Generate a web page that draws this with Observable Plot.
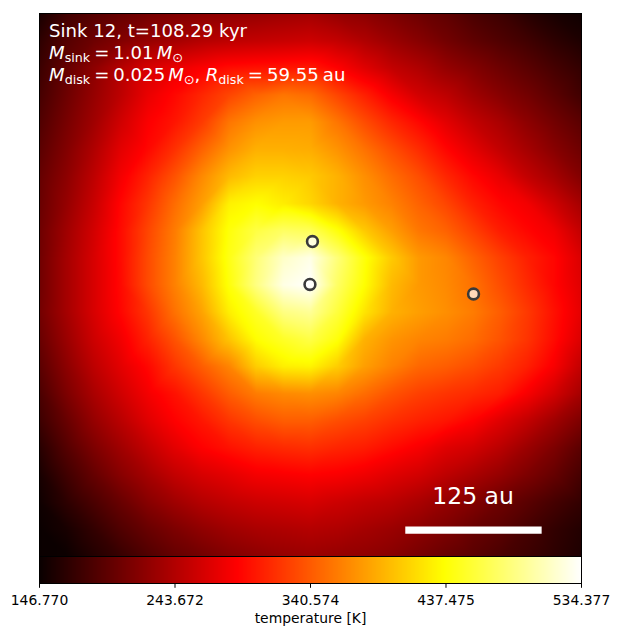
<!DOCTYPE html>
<html><head><meta charset="utf-8">
<style>html,body{margin:0;padding:0;background:#fff}svg{display:block}#c{position:relative;width:619px;height:636px;overflow:hidden}</style>
<script src="https://cdn.jsdelivr.net/npm/d3@7"></script>
<script src="https://cdn.jsdelivr.net/npm/@observablehq/plot@0.6"></script>
</head><body><div id="c"></div>
<script>
const gridAu = [-250,-225,-200,-175,-150,-125,-100,-75,-50,-25,0,25,50,75,100,125,150,175,200,225,250];
const rowsTop = [
[155,178,190,200,208,214,220,224,228,232,235,227,222,213,204,196,184,176,164,155,150],
[167,190,204,216,227,236,245,250,253,256,259,253,242,230,219,207,196,187,178,167,158],
[175,199,222,245,265,276,286,295,298,300,302,288,270,253,242,227,216,204,193,181,170],
[181,204,227,250,276,292,310,328,345,356,350,328,306,283,262,250,233,219,207,193,178],
[187,210,233,261,286,300,322,356,372,378,378,356,332,310,292,272,253,239,222,207,193],
[193,216,242,272,292,316,345,373,390,390,388,373,354,333,313,291,272,253,236,219,204],
[199,222,250,282,308,336,368,396,410,410,405,391,371,351,333,310,291,275,253,236,216],
[201,227,256,291,319,351,380,428,436,426,412,391,377,363,345,328,306,291,281,259,236],
[204,233,262,294,328,360,402,440,462,474,470,440,405,380,357,345,325,304,291,280,253],
[205,236,265,294,331,363,403,444,482,513,525,482,440,405,377,366,345,325,306,291,267]
];
const rowMiddle = [205,236,265,293,331,363,396,440,486,524,534,474,436,396,377,368,354,333,312,291,270];
const rowsBottom = [
[207,236,265,291,319,354,383,427,451,486,494,459,421,391,380,371,360,342,321,297,273],
[201,230,259,281,308,336,368,402,436,451,463,440,391,374,365,360,351,336,318,294,267],
[193,222,250,272,292,319,342,365,407,427,430,407,380,363,348,342,333,321,306,284,253],
[184,213,239,261,282,298,319,342,360,368,371,365,351,336,325,318,312,304,284,262,236],
[176,201,227,248,270,288,301,319,333,342,342,333,325,315,307,300,288,270,253,233,213],
[164,190,213,233,253,272,288,298,307,312,315,309,304,294,284,270,262,248,230,213,193],
[155,178,199,219,236,253,265,273,282,285,288,285,279,270,262,250,239,227,213,199,181],
[150,167,184,201,219,233,245,253,259,262,265,259,253,248,239,227,216,204,193,181,170],
[147,155,170,187,201,213,224,233,239,242,245,242,236,230,222,213,201,193,181,170,161],
[147,148,161,173,187,199,207,216,222,227,230,227,224,219,210,201,193,184,176,167,158]
];
const sinkX = [-0.5,1.8,150.4];
const sinkY = [0.5,40,-8.3];
const tempTicks = [146.770,243.672,340.574,437.475,534.377];
const hotStops = [146.77,288,436,534.377];
const hotColors = ["#0a0000","#ff0000","#ffff00","#ffffff"];
const barAu = [87.9,213.7];
const barY = -225.8;

const rows = [...rowsTop,rowMiddle,...rowsBottom];
const cells = rows.flatMap((r,j)=>r.map((t,i)=>({x:gridAu[i],y:gridAu[20-j],t})));
const sinks = sinkX.map((x,i)=>({x,y:sinkY[i]}));
const color = {type:"linear",domain:hotStops,range:hotColors,interpolate:"rgb"};
const font = "'DejaVu Sans',sans-serif";

const main = Plot.plot({
  width:619,height:556,marginLeft:39,marginRight:38,marginTop:13,marginBottom:0,
  x:{domain:[-250,250],axis:null},y:{domain:[-250,250],axis:null},color,
  style:{fontFamily:font,background:"transparent"},
  marks:[
    Plot.raster(cells,{x:"x",y:"y",fill:"t",interpolate:"barycentric",pixelSize:1}),
    Plot.frame({stroke:"#000",strokeWidth:1}),
    Plot.dot(sinks,{x:"x",y:"y",r:5.4,fill:"#fff",fillOpacity:0.72,stroke:"#3a3a3a",strokeWidth:2.6}),
    Plot.ruleY([barY],{x1:barAu[0],x2:barAu[1],stroke:"#fff",strokeWidth:7.3}),
    Plot.text(["125 au"],{x:150,y:-195,fill:"#fff",fontSize:23.5,stroke:null})
  ]
});
const svg = d3.select(main);
const ann = svg.append("g").attr("fill","#fff").attr("font-family",font).attr("font-size",18.1).attr("text-anchor","start");
function line(y,parts){
  const t = ann.append("text").attr("x",49).attr("y",y).attr("text-anchor","start");
  parts.forEach(p=>{
    const s = t.append("tspan").text(p.t);
    if(p.i) s.attr("font-style","italic");
    if(p.sub){s.attr("font-size",12.7).attr("dy",3);}
    if(p.up){s.attr("dy",-3);}
    if(p.dx) s.attr("dx",p.dx);
  });
}
line(37,[{t:"Sink 12, t=108.29 kyr"}]);
line(59,[{t:"M",i:1},{t:"sink",sub:1},{t:"=",up:1,dx:4},{t:"1.01",dx:4},{t:"M",i:1,dx:3},{t:"⊙",sub:1}]);
line(81,[{t:"M",i:1},{t:"disk",sub:1},{t:"=",up:1,dx:4},{t:"0.025",dx:4},{t:"M",i:1,dx:3},{t:"⊙",sub:1},{t:",",up:1},{t:"R",i:1,dx:5.5},{t:"disk",sub:1},{t:"=",up:1,dx:4},{t:"59.55",dx:4},{t:"au",dx:4}]);

const bar = Plot.plot({
  width:619,height:80,marginLeft:39,marginRight:38,marginTop:0,marginBottom:53,
  x:{domain:[hotStops[0],hotStops[3]],axis:null},y:{domain:[0,1],axis:null},color,
  style:{fontFamily:font,background:"transparent"},
  marks:[
    Plot.raster({fill:(x,y)=>x,x1:hotStops[0],x2:hotStops[3],y1:0,y2:1,pixelSize:1}),
    Plot.frame({stroke:"#000",strokeWidth:1}),
    Plot.axisX({ticks:tempTicks,tickFormat:d3.format(".3f"),tickSize:4.8,tickPadding:7,fontSize:13.9,color:"#000",stroke:"#000",
      label:"temperature [K]",labelAnchor:"center",labelArrow:"none",labelOffset:39})
  ]
});
document.getElementById("c").append(main,bar);
</script></body></html>
